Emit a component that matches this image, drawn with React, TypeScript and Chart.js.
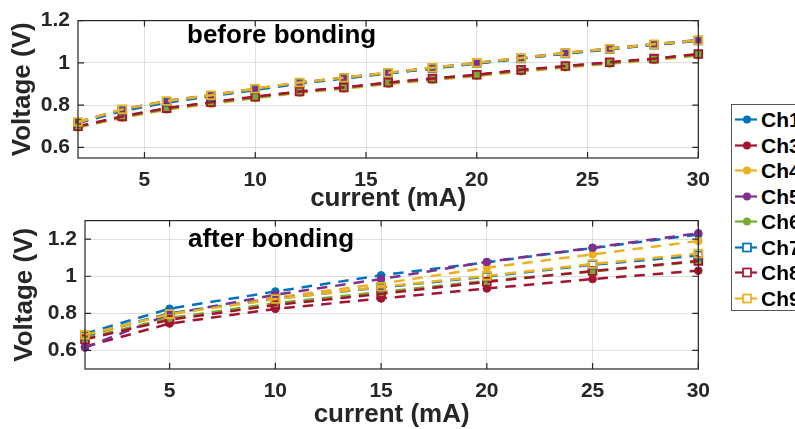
import React, { useEffect, useRef } from "react";
import { Chart, registerables } from "chart.js";

Chart.register(...registerables);

const FONT = "'Liberation Sans', Arial, Helvetica, sans-serif";

// ---------- data: before bonding ----------
const beforeCurrent = [2, 4, 6, 8, 10, 12, 14, 16, 18, 20, 22, 24, 26, 28, 30];
const beforeCh1 = [0.715, 0.772, 0.812, 0.842, 0.872, 0.902, 0.926, 0.95, 0.973, 0.997, 1.02, 1.043, 1.064, 1.085, 1.104];
const beforeCh3 = [0.698, 0.745, 0.785, 0.812, 0.838, 0.863, 0.883, 0.905, 0.925, 0.943, 0.965, 0.983, 1.002, 1.019, 1.04];
const beforeCh4 = [0.694, 0.74, 0.779, 0.806, 0.833, 0.858, 0.878, 0.9, 0.919, 0.938, 0.959, 0.978, 0.996, 1.013, 1.035];
const beforeCh5 = [0.72, 0.78, 0.82, 0.848, 0.877, 0.907, 0.93, 0.953, 0.977, 1.0, 1.024, 1.047, 1.068, 1.088, 1.108];
const beforeCh6 = [0.697, 0.743, 0.782, 0.81, 0.836, 0.861, 0.881, 0.903, 0.922, 0.941, 0.962, 0.981, 0.999, 1.016, 1.038];
const beforeCh7 = [0.717, 0.775, 0.815, 0.844, 0.874, 0.904, 0.928, 0.951, 0.975, 0.998, 1.021, 1.045, 1.066, 1.086, 1.106];
const beforeCh8 = [0.7, 0.747, 0.786, 0.814, 0.84, 0.865, 0.884, 0.907, 0.926, 0.944, 0.967, 0.985, 1.003, 1.02, 1.042];
const beforeCh9 = [0.72, 0.78, 0.82, 0.847, 0.878, 0.907, 0.93, 0.953, 0.977, 1.0, 1.023, 1.047, 1.067, 1.088, 1.107];

// ---------- data: after bonding ----------
const afterCurrent = [1, 5, 10, 15, 20, 25, 30];
const afterCh1 = [0.69, 0.825, 0.918, 1.005, 1.075, 1.152, 1.225];
const afterCh3 = [0.62, 0.745, 0.824, 0.88, 0.934, 0.985, 1.03];
const afterCh4 = [0.675, 0.8, 0.885, 0.96, 1.046, 1.118, 1.19];
const afterCh5 = [0.615, 0.795, 0.9, 0.985, 1.077, 1.154, 1.232];
const afterCh6 = [0.665, 0.775, 0.855, 0.915, 0.975, 1.025, 1.08];
const afterCh7 = [0.68, 0.8, 0.878, 0.94, 0.998, 1.062, 1.112];
const afterCh8 = [0.66, 0.765, 0.845, 0.905, 0.97, 1.028, 1.082];
const afterCh9 = [0.684, 0.796, 0.877, 0.943, 1.002, 1.066, 1.123];

// ---------- ticks / labels ----------
const beforeXTicks = [5, 10, 15, 20, 25, 30];
const beforeYTicks = [0.6, 0.8, 1, 1.2];
const afterXTicks = [5, 10, 15, 20, 25, 30];
const afterYTicks = [0.6, 0.8, 1, 1.2];

const channels = ["Ch1", "Ch3", "Ch4", "Ch5", "Ch6", "Ch7", "Ch8", "Ch9"];
const BLUE = "#0072BD";
const RED = "#A2142F";
const YELLOW = "#EDB120";
const PURPLE = "#7E2F8E";
const GREEN = "#77AC30";
const channelColors = [BLUE, RED, YELLOW, PURPLE, GREEN, BLUE, RED, YELLOW];
const channelFilled = [true, true, true, true, true, false, false, false];

const TEXT = "#262626";
const GRID = "rgba(38,38,38,0.15)";

function makeDatasets(xs: number[], series: number[][]) {
  return series.map((ys, i) => {
    const filled = channelFilled[i];
    const c = channelColors[i];
    return {
      label: channels[i],
      data: xs.map((x, j) => ({ x, y: ys[j] })),
      borderColor: c,
      backgroundColor: filled ? c : "rgba(0,0,0,0)",
      pointBackgroundColor: filled ? c : "rgba(0,0,0,0)",
      pointBorderColor: c,
      pointStyle: filled ? "circle" : "rect",
      pointRadius: filled ? 3.8 : 5.5,
      pointBorderWidth: filled ? 1 : 1.8,
      borderWidth: 2.5,
      borderDash: [10.5, 8],
      showLine: true,
      fill: false,
      clip: false as any,
      order: series.length - i,
    };
  });
}

const boxPlugin = {
  id: "box",
  afterDatasetsDraw(chart: any, _args: any, opts: any) {
    const { ctx, chartArea, scales } = chart;
    const { left, right, top, bottom } = chartArea;
    const x = scales.x;
    const y = scales.y;
    ctx.save();
    ctx.strokeStyle = TEXT;
    ctx.lineWidth = 1.2;
    ctx.beginPath();
    const tl = 6;
    x.ticks.forEach((t: any) => {
      const px = x.getPixelForValue(t.value);
      ctx.moveTo(px, bottom);
      ctx.lineTo(px, bottom - tl);
      ctx.moveTo(px, top);
      ctx.lineTo(px, top + tl);
    });
    y.ticks.forEach((t: any) => {
      const py = y.getPixelForValue(t.value);
      ctx.moveTo(left, py);
      ctx.lineTo(left + tl, py);
      ctx.moveTo(right, py);
      ctx.lineTo(right - tl, py);
    });
    ctx.stroke();
    ctx.strokeRect(left, top, right - left, bottom - top);
    if (opts && opts.text) {
      ctx.fillStyle = "#000";
      ctx.font = `bold 26px ${FONT}`;
      ctx.textBaseline = "alphabetic";
      ctx.textAlign = "left";
      ctx.fillText(opts.text, opts.x, opts.y);
    }
    ctx.restore();
  },
};

interface PanelProps {
  xs: number[];
  series: number[][];
  xMin: number;
  xMax: number;
  yMin: number;
  yMax: number;
  xTicks: number[];
  yTicks: number[];
  width: number;
  height: number;
  padTop: number;
  padRight: number;
  yAxisWidth: number;
  xAxisHeight: number;
  yTitlePad: number;
  xTitlePad: number;
  label: string;
  labelX: number;
  labelY: number;
  style: React.CSSProperties;
}

function Panel(p: PanelProps) {
  const ref = useRef<HTMLCanvasElement | null>(null);
  useEffect(() => {
    if (!ref.current) return;
    const tickFont = { family: FONT, size: 21, weight: "bold" as const };
    const titleFont = { family: FONT, size: 26, weight: "bold" as const, lineHeight: 1 };
    const chart = new Chart(ref.current, {
      type: "scatter",
      data: { datasets: makeDatasets(p.xs, p.series) as any },
      options: {
        animation: false,
        responsive: false,
        maintainAspectRatio: false,
        devicePixelRatio: 1,
        layout: { padding: { left: 0, top: p.padTop, right: p.padRight, bottom: 0 } },
        plugins: {
          legend: { display: false },
          tooltip: { enabled: false },
          box: { text: p.label, x: p.labelX, y: p.labelY },
        } as any,
        scales: {
          x: {
            type: "linear",
            min: p.xMin,
            max: p.xMax,
            afterBuildTicks: (s: any) => {
              s.ticks = p.xTicks.map((v) => ({ value: v }));
            },
            afterFit: (s: any) => {
              s.height = p.xAxisHeight;
            },
            grid: { color: GRID, drawTicks: false, lineWidth: 1 },
            border: { display: false },
            ticks: {
              padding: 10,
              color: TEXT,
              font: tickFont,
              maxRotation: 0,
              autoSkip: false,
              callback: (v: any) => String(v),
            },
            title: {
              display: true,
              text: "current (mA)",
              color: TEXT,
              font: titleFont,
              padding: { top: 0, bottom: p.xTitlePad },
            },
          },
          y: {
            type: "linear",
            min: p.yMin,
            max: p.yMax,
            afterBuildTicks: (s: any) => {
              s.ticks = p.yTicks.map((v) => ({ value: v }));
            },
            afterFit: (s: any) => {
              s.width = p.yAxisWidth;
            },
            grid: { color: GRID, drawTicks: false, lineWidth: 1 },
            border: { display: false },
            ticks: {
              padding: 8,
              color: TEXT,
              font: tickFont,
              autoSkip: false,
              callback: (v: any) => String(v),
            },
            title: {
              display: true,
              text: "Voltage (V)",
              color: TEXT,
              font: titleFont,
              padding: { top: p.yTitlePad, bottom: 0 },
            },
          },
        },
      },
      plugins: [boxPlugin as any],
    });
    return () => chart.destroy();
  }, []);
  return (
    <canvas
      ref={ref}
      width={p.width}
      height={p.height}
      style={{ position: "absolute", width: p.width, height: p.height, ...p.style }}
    />
  );
}

function LegendSymbol({ color, filled }: { color: string; filled: boolean }) {
  return (
    <svg width={28} height={25} style={{ display: "block", flex: "none" }}>
      <line x1={3} y1={12.5} x2={12} y2={12.5} stroke={color} strokeWidth={2.2} />
      <line x1={19} y1={12.5} x2={25} y2={12.5} stroke={color} strokeWidth={2.2} />
      {filled ? (
        <circle cx={15} cy={12.5} r={4} fill={color} />
      ) : (
        <rect x={11} y={8.5} width={8} height={8} fill="white" stroke={color} strokeWidth={1.7} />
      )}
    </svg>
  );
}

export default function App() {
  return (
    <div
      style={{
        position: "absolute",
        left: 0,
        top: 0,
        width: 795,
        height: 429,
        overflow: "hidden",
        background: "#fff",
      }}
    >
      <Panel
        xs={beforeCurrent}
        series={[beforeCh1, beforeCh3, beforeCh4, beforeCh5, beforeCh6, beforeCh7, beforeCh8, beforeCh9]}
        xMin={2}
        xMax={30}
        yMin={0.55}
        yMax={1.2}
        xTicks={beforeXTicks}
        yTicks={beforeYTicks}
        width={720}
        height={215}
        padTop={18}
        padRight={19}
        yAxisWidth={78}
        xAxisHeight={57}
        yTitlePad={10}
        xTitlePad={3}
        label="before bonding"
        labelX={187}
        labelY={43}
        style={{ left: 0, top: 0 }}
      />
      <Panel
        xs={afterCurrent}
        series={[afterCh1, afterCh3, afterCh4, afterCh5, afterCh6, afterCh7, afterCh8, afterCh9]}
        xMin={1}
        xMax={30}
        yMin={0.5}
        yMax={1.3}
        xTicks={afterXTicks}
        yTicks={afterYTicks}
        width={720}
        height={229}
        padTop={14}
        padRight={16}
        yAxisWidth={85}
        xAxisHeight={60}
        yTitlePad={12}
        xTitlePad={1}
        label="after bonding"
        labelX={188}
        labelY={47}
        style={{ left: 0, top: 200 }}
      />
      <div
        style={{
          position: "absolute",
          left: 731,
          top: 104,
          width: 120,
          height: 207,
          border: "1px solid #555",
          background: "#fff",
          boxSizing: "border-box",
          paddingTop: 2,
        }}
      >
        {channels.map((name, i) => (
          <div
            key={name}
            style={{ display: "flex", alignItems: "center", height: 25.5 }}
          >
            <LegendSymbol color={channelColors[i]} filled={channelFilled[i]} />
            <span
              style={{
                fontFamily: FONT,
                fontWeight: "bold",
                fontSize: 21,
                color: "#000",
                marginLeft: 1,
                lineHeight: "25px",
              }}
            >
              {name}
            </span>
          </div>
        ))}
      </div>
    </div>
  );
}
